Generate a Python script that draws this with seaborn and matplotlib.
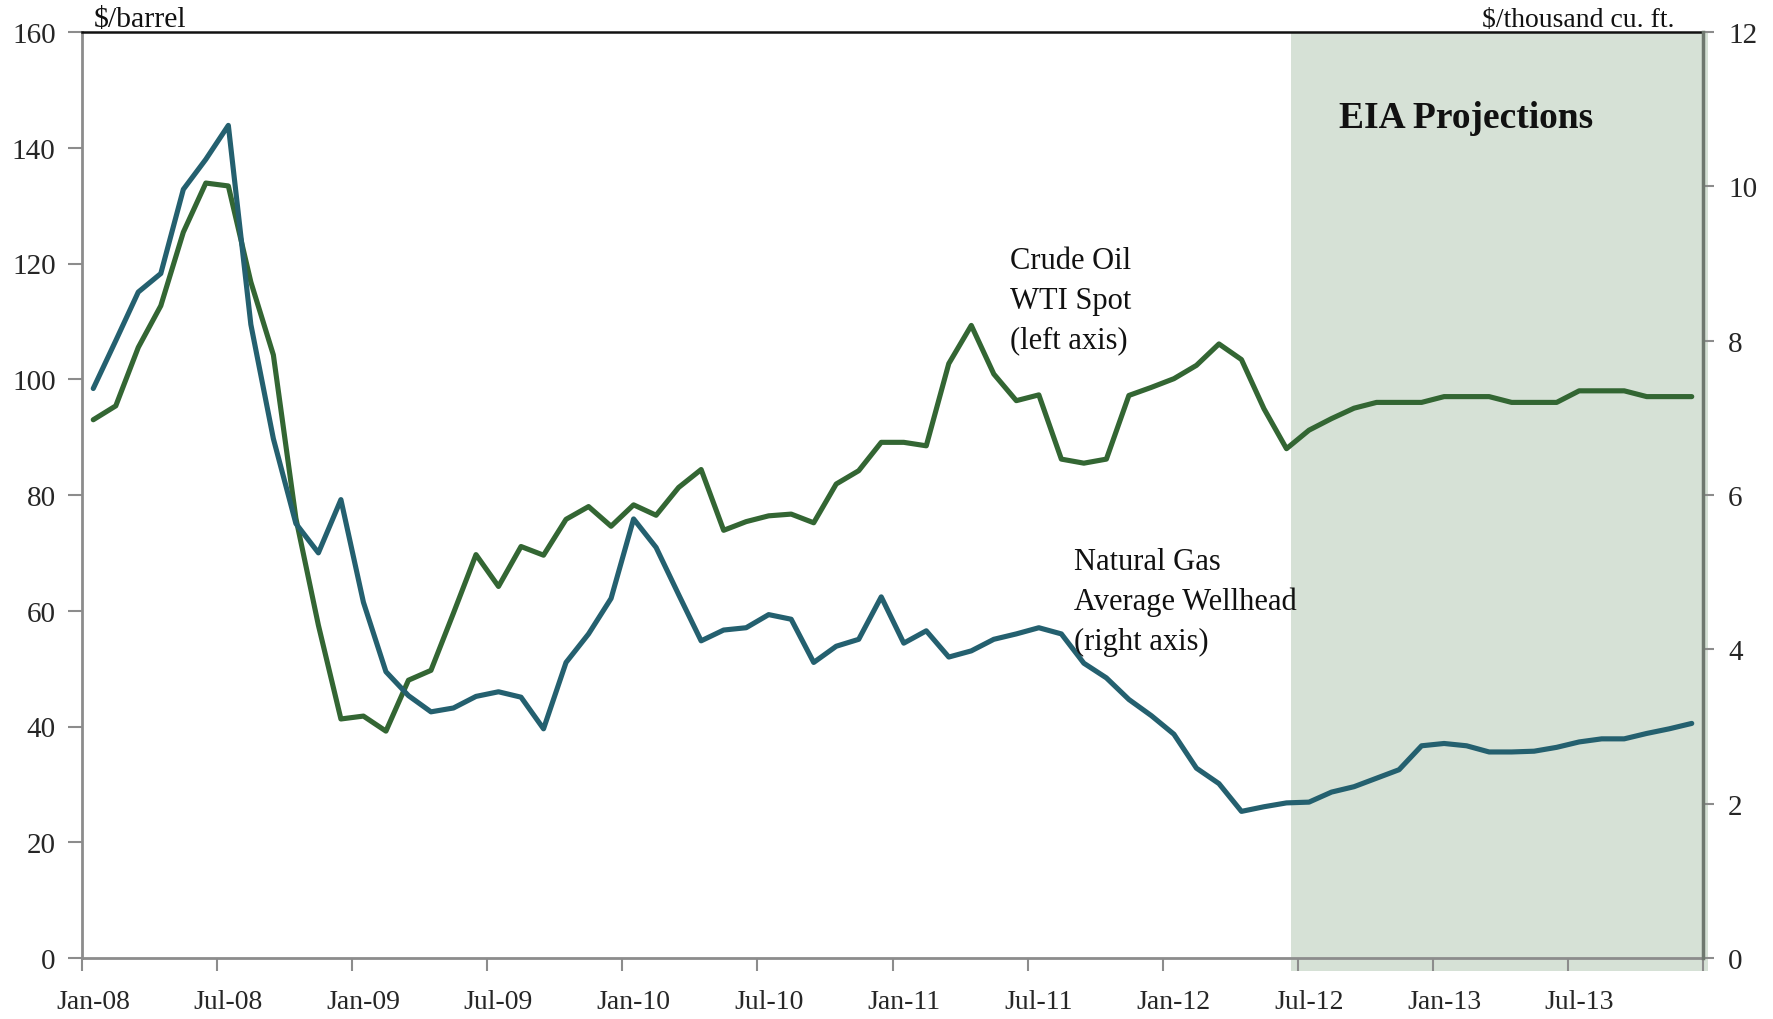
import numpy as np
import pandas as pd
import matplotlib
matplotlib.use("Agg")
import matplotlib.pyplot as plt
import seaborn as sns

# ---------------- data ----------------
months = pd.date_range("2008-01-01", "2013-12-01", freq="MS")
month_idx = list(range(len(months)))

oil = [93.0, 95.4, 105.5, 112.7, 125.4, 133.9, 133.4, 116.8, 104.2, 76.0, 57.5, 41.3,
       41.8, 39.2, 48.0, 49.7, 59.6, 69.7, 64.2, 71.1, 69.6, 75.8, 78.0, 74.6,
       78.3, 76.5, 81.3, 84.4, 73.9, 75.4, 76.4, 76.7, 75.2, 81.9, 84.2, 89.1,
       89.1, 88.5, 102.7, 109.3, 100.9, 96.3, 97.3, 86.2, 85.5, 86.2, 97.2, 98.6,
       100.1, 102.4, 106.1, 103.4, 94.9, 88.0, 91.2, 93.2, 95.0, 96.0, 96.0, 96.0,
       97.0, 97.0, 97.0, 96.0, 96.0, 96.0, 98.0, 98.0, 98.0, 97.0, 97.0, 97.0]

gas = [7.38, 8.00, 8.63, 8.87, 9.96, 10.35, 10.79, 8.21, 6.73, 5.63, 5.25, 5.94,
       4.61, 3.71, 3.40, 3.19, 3.24, 3.39, 3.45, 3.38, 2.97, 3.83, 4.20, 4.66,
       5.69, 5.32, 4.71, 4.11, 4.25, 4.28, 4.45, 4.39, 3.83, 4.04, 4.13, 4.68,
       4.08, 4.24, 3.90, 3.98, 4.13, 4.20, 4.28, 4.20, 3.82, 3.63, 3.35, 3.14,
       2.90, 2.46, 2.26, 1.90, 1.96, 2.01, 2.02, 2.15, 2.22, 2.33, 2.44, 2.75,
       2.78, 2.75, 2.67, 2.67, 2.68, 2.73, 2.80, 2.84, 2.84, 2.91, 2.97, 3.04]

x_labels = ["Jan-08", "Jul-08", "Jan-09", "Jul-09", "Jan-10", "Jul-10",
            "Jan-11", "Jul-11", "Jan-12", "Jul-12", "Jan-13", "Jul-13"]
left_ticks = [0, 20, 40, 60, 80, 100, 120, 140, 160]
right_ticks = [0, 2, 4, 6, 8, 10, 12]

df = pd.DataFrame({"idx": month_idx, "date": months, "oil": oil, "gas": gas})

# ---------------- style ----------------
sns.set_theme(style="white")
plt.rcParams["font.family"] = ["Liberation Serif", "DejaVu Serif"]

GREEN = "#336633"
BLUE = "#24606F"
SHADE = "#D6E1D6"
GRAY = "#8C8C8C"

W, H = 1773, 1020
fig = plt.figure(figsize=(W / 100, H / 100), dpi=100)
ax = fig.add_axes([82 / W, 1 - 959 / H, (1703 - 82) / W, (959 - 33) / H])
ax2 = ax.twinx()

# projections shading
ax.axvspan(53.2, 71.72, ymin=-0.014, ymax=1.0, color=SHADE, lw=0,
           clip_on=False, zorder=0)

sns.lineplot(data=df, x="idx", y="oil", ax=ax, color=GREEN, lw=3.7, zorder=3)
sns.lineplot(data=df, x="idx", y="gas", ax=ax2, color=BLUE, lw=3.7, zorder=3)

ax.set_xlim(-0.5, 71.5)
ax.set_ylim(0, 160)
ax2.set_ylim(0, 12)
ax.set_xlabel("")
ax.set_ylabel("")
ax2.set_ylabel("")

ax.set_yticks(left_ticks)
ax.set_yticklabels([str(v) for v in left_ticks], fontsize=21)
ax2.set_yticks(right_ticks)
ax2.set_yticklabels([str(v) for v in right_ticks], fontsize=21)

boundaries = [-0.5 + 6 * k for k in range(13)]
centers = [6 * k for k in range(12)]
ax.set_xticks(boundaries)
ax.set_xticklabels([""] * len(boundaries))
ax.set_xticks(centers, minor=True)
ax.set_xticklabels(x_labels, minor=True, fontsize=20)

ax.tick_params(axis="x", which="major", direction="out", length=9, width=1.5,
               color=GRAY, bottom=True)
ax.tick_params(axis="x", which="minor", length=0, pad=22, bottom=True)
ax.tick_params(axis="y", which="major", direction="out", length=10, width=1.5,
               color=GRAY, left=True, pad=9)
ax2.tick_params(axis="y", which="major", direction="out", length=8, width=1.5,
                color=GRAY, right=True, pad=10)

for a in (ax, ax2):
    for s in a.spines.values():
        s.set_visible(False)
ax.spines["left"].set_visible(True)
ax.spines["left"].set_color(GRAY)
ax.spines["left"].set_linewidth(2)
ax.spines["bottom"].set_visible(True)
ax.spines["bottom"].set_color(GRAY)
ax.spines["bottom"].set_linewidth(2)
ax.spines["top"].set_visible(True)
ax.spines["top"].set_color("#111111")
ax.spines["top"].set_linewidth(1.8)
ax2.spines["right"].set_visible(True)
ax2.spines["right"].set_color("#6F786F")
ax2.spines["right"].set_linewidth(2.5)
ax.grid(False)
ax2.grid(False)

# ---------------- texts ----------------
def ftxt(px, py, s, **kw):
    fig.text(px / W, 1 - py / H, s, **kw)

ftxt(94, 27, "$/barrel", fontsize=21.5, ha="left", va="baseline", color="#111111")
ftxt(1674, 27, "$/thousand cu. ft.", fontsize=20, ha="right", va="baseline",
     color="#111111")
ftxt(1466, 119, "EIA Projections", fontsize=27, fontweight="bold",
     ha="center", va="center", color="#111111")
ftxt(1010, 247, "Crude Oil\nWTI Spot\n(left axis)", fontsize=22, ha="left",
     va="top", linespacing=1.48, color="#111111")
ftxt(1074, 548, "Natural Gas\nAverage Wellhead\n(right axis)", fontsize=22,
     ha="left", va="top", linespacing=1.48, color="#111111")

fig.savefig("out.png", dpi=100)
